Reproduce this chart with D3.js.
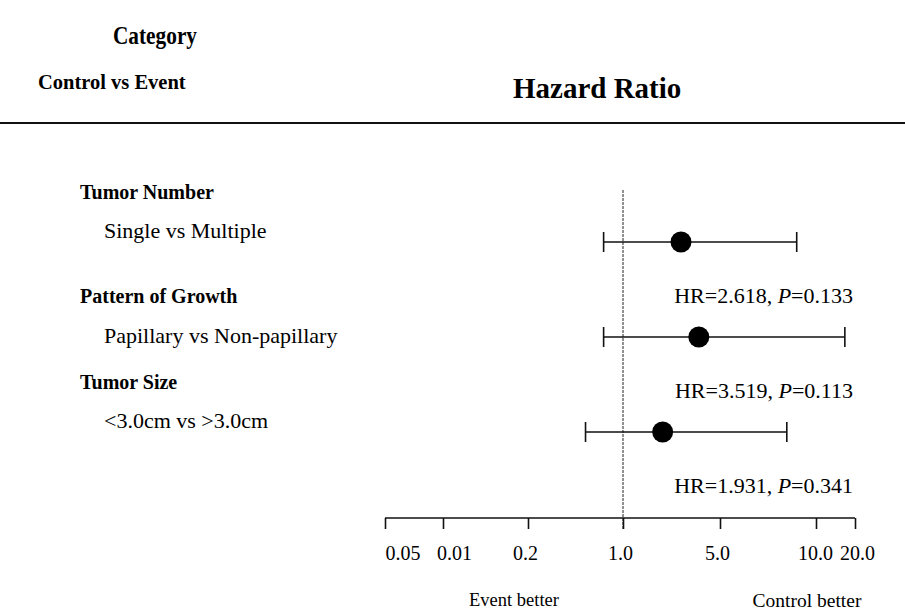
<!DOCTYPE html>
<html>
<head>
<meta charset="utf-8">
<script src="https://cdn.jsdelivr.net/npm/d3@7/dist/d3.min.js"></script>
<style>
  html, body { margin: 0; padding: 0; background: #fff; }
  svg { display: block; }
  text { font-family: "Liberation Serif", "Times New Roman", serif; fill: #000; }
</style>
</head>
<body>
<svg id="chart" width="905" height="616"></svg>
<script>
// ---- data ----
const categories  = ["Tumor Number", "Pattern of Growth", "Tumor Size"];
const comparisons = ["Single vs Multiple", "Papillary vs Non-papillary", "<3.0cm vs >3.0cm"];
const hazardRatios = [2.618, 3.519, 1.931];
const ciLower = [0.72, 0.72, 0.53];
const ciUpper = [8.7, 16.7, 8.1];
const pValues = ["0.133", "0.113", "0.341"];
const tickLabels = ["0.05", "0.01", "0.2", "1.0", "5.0", "10.0", "20.0"];
const scaleValues = [0.2, 1, 5, 10, 20];   // monotone part of the axis used for the marks

// ---- layout ----
const W = 905, H = 616;
const tickPx = [385, 443, 528, 623, 720, 816, 855];
const tickLabelDx = [0, 11, -3, -3, -3, -1, 2];
const axisY = 518;
const rowTop = 242, rowBottom = 432;
const catBaseline = [199, 303, 389];
const cmpBaseline = [238, 343, 428];

const svg = d3.select("#chart");

// axis position scale (by tick index) and value scale (piecewise log)
const axisX = d3.scaleLinear().domain(d3.range(tickLabels.length)).range(tickPx);
const x = d3.scaleLog().domain(scaleValues).range(scaleValues.map((v, i) => axisX(i + 2)));
const y = d3.scalePoint().domain(categories).range([rowTop, rowBottom]);

// ---- header ----
svg.append("text").attr("transform", "translate(155,44) scale(0.82,1)").attr("text-anchor", "middle")
  .attr("font-weight", "bold").attr("font-size", 26).text("Category");
svg.append("text").attr("x", 38).attr("y", 89)
  .attr("font-weight", "bold").attr("font-size", 20.5).text("Control vs Event");
svg.append("text").attr("x", 513).attr("y", 98)
  .attr("font-weight", "bold").attr("font-size", 29).text("Hazard Ratio");
svg.append("line").attr("x1", 0).attr("x2", W).attr("y1", 123).attr("y2", 123)
  .attr("stroke", "#111").attr("stroke-width", 2);

// ---- left labels ----
categories.forEach((c, i) => {
  svg.append("text").attr("x", 80).attr("y", catBaseline[i])
    .attr("font-weight", "bold").attr("font-size", 20).text(c);
  svg.append("text").attr("x", 104).attr("y", cmpBaseline[i])
    .attr("font-size", 22).text(comparisons[i]);
});

// ---- reference line at HR = 1 ----
svg.append("line").attr("x1", x(1)).attr("x2", x(1)).attr("y1", 190).attr("y2", axisY + 11)
  .attr("stroke", "#222").attr("stroke-width", 1).attr("stroke-dasharray", "3,1");

// ---- axis ----
const axis = d3.axisBottom(axisX)
  .tickValues(d3.range(tickLabels.length))
  .tickFormat(i => tickLabels[i])
  .tickSize(11).tickPadding(17);
const gAxis = svg.append("g").attr("transform", `translate(0,${axisY})`).call(axis);
gAxis.select(".domain").attr("d", `M${tickPx[0]},0H${tickPx[tickPx.length-1]}`)
  .attr("stroke", "#111").attr("stroke-width", 1.6);
gAxis.selectAll(".tick line").attr("stroke", "#111").attr("stroke-width", 1.6);
gAxis.selectAll(".tick text")
  .attr("font-family", '"Liberation Serif", "Times New Roman", serif')
  .attr("font-size", 20).attr("fill", "#000")
  .attr("dx", (d, i) => tickLabelDx[i])
  .attr("text-anchor", (d, i) => i === 0 ? "start" : "middle");

svg.append("text").attr("x", 514).attr("y", 606).attr("text-anchor", "middle")
  .attr("font-size", 18.5).text("Event better");
svg.append("text").attr("x", 807).attr("y", 607).attr("text-anchor", "middle")
  .attr("font-size", 19.5).text("Control better");

// ---- marks ----
const rows = categories.map((c, i) => ({ c, hr: hazardRatios[i], lo: ciLower[i], hi: ciUpper[i], p: pValues[i] }));
const g = svg.append("g");
const capH = 10;
g.selectAll(".ci").data(rows).join("line")
  .attr("x1", d => x(d.lo)).attr("x2", d => x(d.hi))
  .attr("y1", d => y(d.c)).attr("y2", d => y(d.c))
  .attr("stroke", "#111").attr("stroke-width", 1.6);
g.selectAll(".capL").data(rows).join("line")
  .attr("x1", d => x(d.lo)).attr("x2", d => x(d.lo))
  .attr("y1", d => y(d.c) - capH).attr("y2", d => y(d.c) + capH)
  .attr("stroke", "#111").attr("stroke-width", 1.6);
g.selectAll(".capR").data(rows).join("line")
  .attr("x1", d => x(d.hi)).attr("x2", d => x(d.hi))
  .attr("y1", d => y(d.c) - capH).attr("y2", d => y(d.c) + capH)
  .attr("stroke", "#111").attr("stroke-width", 1.6);
g.selectAll("circle").data(rows).join("circle")
  .attr("cx", d => x(d.hr)).attr("cy", d => y(d.c)).attr("r", 10.5).attr("fill", "#000");

// HR labels
const lbl = g.selectAll(".hr").data(rows).join("text")
  .attr("x", 853).attr("y", d => y(d.c) + 61).attr("text-anchor", "end")
  .attr("font-size", 22);
lbl.append("tspan").text(d => `HR=${d.hr.toFixed(3)}, `);
lbl.append("tspan").attr("font-style", "italic").text("P");
lbl.append("tspan").text(d => `=${d.p}`);
</script>
</body>
</html>
